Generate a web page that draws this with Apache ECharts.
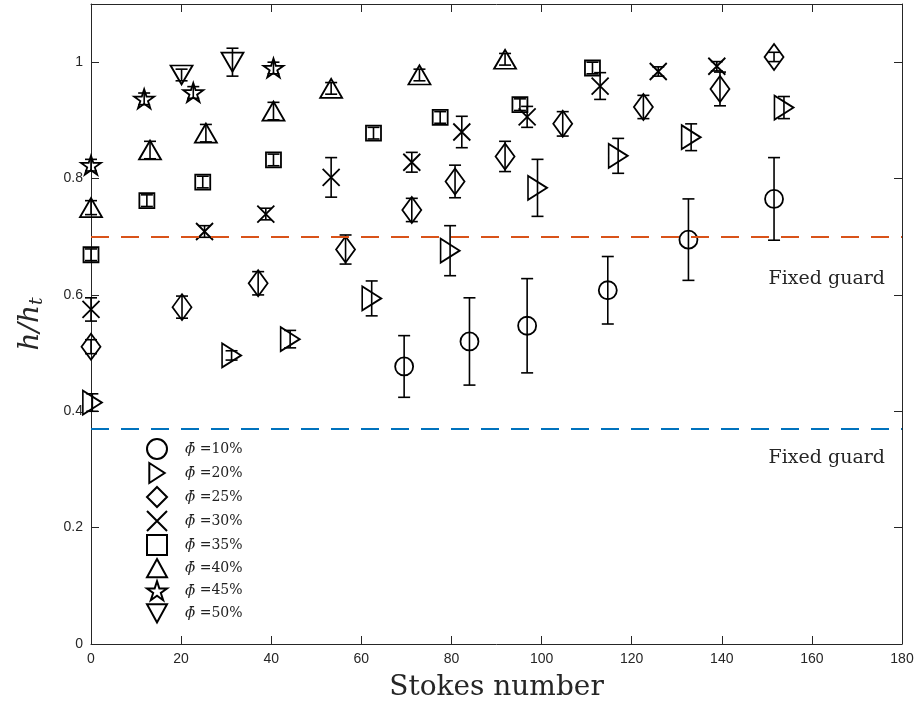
<!DOCTYPE html>
<html>
<head>
<meta charset="utf-8">
<script src="https://cdn.jsdelivr.net/npm/echarts@6/dist/echarts.min.js"></script>
<style>
  html, body { margin: 0; padding: 0; background: #fff; }
  #main { width: 920px; height: 709px; }
</style>
</head>
<body>
<div id="main"></div>
<script>
// each point: [Stokes number, h/h_t, error half-width]
const phi10 = [[69.5, 0.477, 0.053], [84.0, 0.520, 0.075], [96.8, 0.547, 0.081],
               [114.7, 0.608, 0.058], [132.6, 0.695, 0.070], [151.6, 0.765, 0.071]];
const phi20 = [[0.3, 0.415, 0.015], [31.2, 0.496, 0.008], [44.2, 0.524, 0.015],
               [62.3, 0.594, 0.030], [79.7, 0.676, 0.043], [99.1, 0.784, 0.049],
               [117.0, 0.839, 0.030], [133.2, 0.871, 0.023], [153.8, 0.922, 0.019]];
const phi25 = [[0, 0.511, 0.012], [20.2, 0.579, 0.019], [37.1, 0.620, 0.020],
               [56.5, 0.678, 0.025], [71.2, 0.746, 0.020], [80.8, 0.795, 0.028],
               [91.9, 0.838, 0.026], [104.7, 0.894, 0.021], [122.6, 0.923, 0.020],
               [139.6, 0.954, 0.029], [151.6, 1.009, 0.008]];
const phi30 = [[0, 0.575, 0.020], [25.2, 0.709, 0.010], [38.8, 0.739, 0.010],
               [53.3, 0.802, 0.034], [71.2, 0.828, 0.017], [82.3, 0.880, 0.027],
               [96.8, 0.906, 0.018], [113.0, 0.959, 0.023], [125.9, 0.984, 0.008],
               [138.9, 0.993, 0.008]];
const phi35 = [[0, 0.669, 0.010], [12.4, 0.762, 0.010], [24.8, 0.794, 0.010],
               [40.5, 0.832, 0.010], [62.7, 0.878, 0.010], [77.5, 0.905, 0.010],
               [95.2, 0.927, 0.010], [111.3, 0.990, 0.010]];
const phi40 = [[0, 0.750, 0.012], [13.1, 0.849, 0.015], [25.5, 0.878, 0.015],
               [40.5, 0.916, 0.015], [53.3, 0.955, 0.010], [72.9, 0.978, 0.010],
               [91.9, 1.005, 0.010]];
const phi45 = [[0, 0.823, 0.010], [11.8, 0.937, 0.010], [22.7, 0.948, 0.010],
               [40.5, 0.990, 0.010]];
const phi50 = [[20.1, 0.978, 0.010], [31.4, 1.000, 0.024]];

const seriesNames = ['10%', '20%', '25%', '30%', '35%', '40%', '45%', '50%'];
const guardHigh = 0.7;
const guardLow = 0.37;
const guardText = 'Fixed guard';

// marker shapes (MATLAB style)
const starPath = 'path://M0,-10L2.245,-3.09L9.511,-3.09L3.633,1.18L5.878,8.09L0,3.82' +
                 'L-5.878,8.09L-3.633,1.18L-9.511,-3.09L-2.245,-3.09Z';
const crossPath = 'path://M0,0L10,10M10,0L0,10';
const rightTri = 'path://M0,0L10,6.5L0,13Z';
const downTri = 'path://M0,0L11,0L5.5,10Z';
const upTri = 'path://M5.5,0L11,10L0,10Z';

const markers = [
  { data: phi10, symbol: 'circle', size: 18 },
  { data: phi20, symbol: rightTri, size: [19, 24] },
  { data: phi25, symbol: 'diamond', size: [19, 26] },
  { data: phi30, symbol: crossPath, size: 17 },
  { data: phi35, symbol: 'rect', size: 15 },
  { data: phi40, symbol: upTri, size: [22, 19] },
  { data: phi45, symbol: starPath, size: [20, 19] },
  { data: phi50, symbol: downTri, size: [22, 19] }
];

const chart = echarts.init(document.getElementById('main'));

const axisCol = '#262626';
const tickFont = { fontFamily: 'Liberation Sans', fontSize: 14, color: axisCol };

const series = markers.map(function (m, i) {
  return {
    name: seriesNames[i],
    type: 'scatter',
    data: m.data.map(function (p) { return [p[0], p[1]]; }),
    symbol: m.symbol,
    symbolSize: m.size,
    itemStyle: { color: 'rgba(0,0,0,0)', borderColor: '#000', borderWidth: 1.8, opacity: 1 },
    emphasis: { disabled: true },
    z: 3
  };
});

// error bars for every point
let allPoints = [];
markers.forEach(function (m) { allPoints = allPoints.concat(m.data); });
series.push({
  name: 'errorbars',
  type: 'custom',
  data: allPoints,
  encode: { x: 0, y: 1 },
  silent: true,
  z: 4,
  renderItem: function (params, api) {
    const x = api.value(0), y = api.value(1), e = api.value(2);
    const top = api.coord([x, y + e]);
    const bot = api.coord([x, y - e]);
    const cap = 6;
    const st = { stroke: '#000', lineWidth: 1.6 };
    return {
      type: 'group',
      children: [
        { type: 'line', shape: { x1: top[0], y1: top[1], x2: bot[0], y2: bot[1] }, style: st },
        { type: 'line', shape: { x1: top[0] - cap, y1: top[1], x2: top[0] + cap, y2: top[1] }, style: st },
        { type: 'line', shape: { x1: bot[0] - cap, y1: bot[1], x2: bot[0] + cap, y2: bot[1] }, style: st }
      ]
    };
  },
  markLine: {
    silent: true,
    symbol: 'none',
    label: { show: false },
    lineStyle: { type: [18, 12], width: 2 },
    data: [
      { yAxis: guardHigh, lineStyle: { color: '#D95319' } },
      { yAxis: guardLow, lineStyle: { color: '#0072BD' } }
    ]
  }
});

chart.setOption({
  animation: false,
  backgroundColor: '#fff',
  grid: { left: 91, right: 18, top: 4, bottom: 65 },
  legend: {
    data: seriesNames,
    orient: 'vertical',
    left: 141,
    top: 433,
    itemWidth: 20,
    itemHeight: 20,
    itemGap: 2,
    selectedMode: false,
    formatter: function (n) { return '{p|ϕ̄} =' + n; },
    textStyle: {
      fontFamily: 'DejaVu Serif',
      fontSize: 14,
      lineHeight: 18,
      color: '#222',
      padding: [0, 0, 0, 13],
      rich: { p: { fontFamily: 'DejaVu Serif', fontStyle: 'italic', fontSize: 15, lineHeight: 18, color: '#222' } }
    }
  },
  xAxis: [
    {
      type: 'value', min: 0, max: 180, interval: 20, position: 'bottom',
      name: 'Stokes number', nameLocation: 'middle', nameGap: 30,
      nameTextStyle: { fontFamily: 'DejaVu Serif', fontSize: 28, color: axisCol },
      axisLine: { onZero: false, lineStyle: { color: axisCol, width: 1 } },
      axisTick: { inside: true, length: 8, lineStyle: { color: axisCol } },
      axisLabel: Object.assign({ margin: 8 }, tickFont),
      splitLine: { show: false }
    },
    {
      type: 'value', min: 0, max: 180, interval: 20, position: 'top',
      axisLine: { onZero: false, lineStyle: { color: axisCol, width: 1 } },
      axisTick: { inside: true, length: 8, lineStyle: { color: axisCol } },
      axisLabel: { show: false },
      splitLine: { show: false }
    }
  ],
  yAxis: [
    {
      type: 'value', min: 0, max: 1.1, interval: 0.2, position: 'left',
      name: '{a|h/h}{t|t}', nameLocation: 'middle', nameGap: 44, nameRotate: 90,
      nameTextStyle: {
        rich: {
          a: { fontFamily: 'DejaVu Serif', fontStyle: 'italic', fontSize: 28, color: axisCol },
          t: { fontFamily: 'DejaVu Serif', fontStyle: 'italic', fontSize: 19, color: axisCol, padding: [14, 0, 0, 0] }
        }
      },
      axisLine: { onZero: false, lineStyle: { color: axisCol, width: 1 } },
      axisTick: { inside: true, length: 8, lineStyle: { color: axisCol } },
      axisLabel: Object.assign({ margin: 8, showMaxLabel: false }, tickFont),
      splitLine: { show: false }
    },
    {
      type: 'value', min: 0, max: 1.1, interval: 0.2, position: 'right',
      axisLine: { onZero: false, lineStyle: { color: axisCol, width: 1 } },
      axisTick: { inside: true, length: 8, lineStyle: { color: axisCol } },
      axisLabel: { show: false },
      splitLine: { show: false }
    }
  ],
  graphic: [
    { type: 'text', right: 35, top: 270, style: { text: guardText, fontFamily: 'DejaVu Serif', fontSize: 19, fill: axisCol } },
    { type: 'text', right: 35, top: 449, style: { text: guardText, fontFamily: 'DejaVu Serif', fontSize: 19, fill: axisCol } }
  ],
  series: series
});
</script>
</body>
</html>
